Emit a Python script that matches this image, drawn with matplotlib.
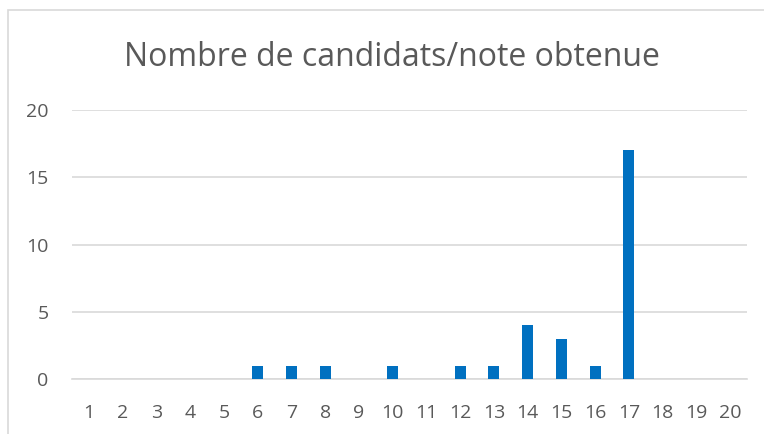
import numpy as np
import matplotlib.pyplot as plt
from matplotlib.patches import Rectangle

notes = list(range(1, 21))
candidats = [0, 0, 0, 0, 0, 1, 1, 1, 0, 1, 0, 1, 1, 4, 3, 1, 17, 0, 0, 0]
yticks = [0, 5, 10, 15, 20]

plt.rcParams['font.family'] = ['Open Sans', 'DejaVu Sans']

fig = plt.figure(figsize=(7.64, 4.34), dpi=100)
fig.patch.set_facecolor('white')

# cadre du graphique (déborde à droite et en bas)
fig.patches.append(Rectangle((8 / 764, -0.1), 1.2, 1 - 10 / 434 + 0.1,
                             transform=fig.transFigure, fill=False,
                             edgecolor='#D9D9D9', linewidth=1.2))

ax = fig.add_axes([72 / 764, 1 - 379 / 434, (747 - 72) / 764, (379 - 110) / 434])
ax.bar(notes, candidats, width=0.32, color='#0070C0', zorder=3)

ax.set_xlim(0.5, 20.5)
ax.set_ylim(0, 20)
ax.set_xticks(notes)
ax.set_yticks(yticks)
ax.yaxis.grid(True, color='#D9D9D9', linewidth=1.2, zorder=0)
ax.set_axisbelow(True)
for s in ['top', 'right', 'left']:
    ax.spines[s].set_visible(False)
ax.spines['bottom'].set_color('#D9D9D9')
ax.spines['bottom'].set_linewidth(1.2)
ax.tick_params(axis='both', length=0, labelsize=14, labelcolor='#595959')
ax.tick_params(axis='x', pad=18)
ax.tick_params(axis='y', pad=17)

fig.text(392 / 764, 1 - 66 / 434, 'Nombre de candidats/note obtenue',
         ha='center', va='baseline', fontsize=23, color='#595959')

fig.savefig('out.png', dpi=100)
